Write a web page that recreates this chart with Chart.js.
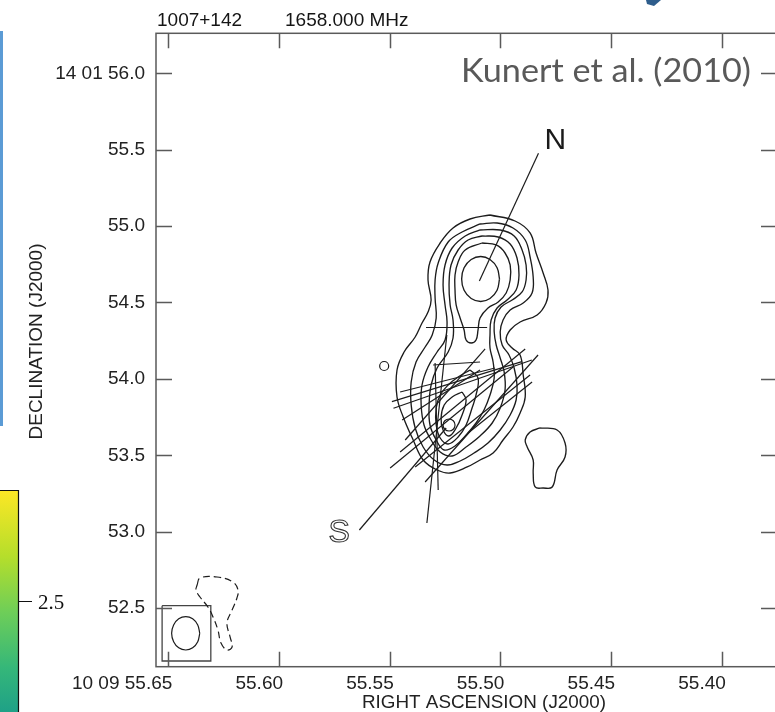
<!DOCTYPE html>
<html>
<head>
<meta charset="utf-8">
<script src="https://cdn.jsdelivr.net/npm/chart.js@4/dist/chart.umd.min.js"></script>
<style>
html,body{margin:0;padding:0;background:#fff;overflow:hidden;width:775px;height:712px;}
#wrap{position:absolute;left:0;top:0;width:790px;height:712px;}
</style>
</head>
<body>
<div id="wrap"><canvas id="c" width="790" height="712"></canvas></div>
<script>
// ---- axis ticks ----
const xTickValues = [55.65, 55.60, 55.55, 55.50, 55.45, 55.40];
const xTickLabels = ['10 09 55.65', '55.60', '55.55', '55.50', '55.45', '55.40'];
const yTickValues = [56.0, 55.5, 55.0, 54.5, 54.0, 53.5, 53.0, 52.5];
const yTickLabels = ['14 01 56.0', '55.5', '55.0', '54.5', '54.0', '53.5', '53.0', '52.5'];
const raRange = [55.37507, 55.65556];
const decRange = [52.11649, 56.26178];

// ---- contours [RA seconds, Dec arcsec] ----
const contourLevel1 = [[55.5047,55.0727],[55.4934,55.0334],[55.4866,54.9549],[55.4839,54.8240],[55.4807,54.6931],[55.4785,54.5818],[55.4794,54.4968],[55.4834,54.4182],[55.4911,54.3724],[55.4956,54.3201],[55.4974,54.2546],[55.4947,54.2023],[55.4911,54.1565],[55.4897,54.0256],[55.4888,53.8816],[55.4911,53.7769],[55.4943,53.6853],[55.4988,53.6002],[55.5033,53.5151],[55.5092,53.4693],[55.5150,53.4235],[55.5227,53.3842],[55.5286,53.4038],[55.5349,53.4693],[55.5394,53.6002],[55.5439,53.7507],[55.5467,53.8816],[55.5467,54.0583],[55.5435,54.1761],[55.5385,54.2743],[55.5354,54.3659],[55.5327,54.4379],[55.5313,54.5164],[55.5327,54.6473],[55.5318,54.7651],[55.5272,54.8894],[55.5214,54.9876],[55.5137,55.0465],[55.5047,55.0727]];
const contourLevel2 = [[55.5092,55.0138],[55.5015,55.0203],[55.4943,54.9876],[55.4888,54.9091],[55.4866,54.7978],[55.4852,54.6669],[55.4857,54.5622],[55.4897,54.4968],[55.4956,54.4510],[55.4988,54.3855],[55.5001,54.3070],[55.4992,54.2219],[55.4961,54.1565],[55.4938,54.0714],[55.4925,53.9601],[55.4929,53.8620],[55.4956,53.7638],[55.5001,53.6656],[55.5056,53.5805],[55.5119,53.5151],[55.5182,53.4627],[55.5241,53.4366],[55.5299,53.4693],[55.5349,53.5544],[55.5385,53.6787],[55.5403,53.8292],[55.5403,53.9798],[55.5381,54.1106],[55.5340,54.2088],[55.5308,54.2873],[55.5290,54.3986],[55.5295,54.5295],[55.5295,54.6473],[55.5281,54.7586],[55.5236,54.8960],[55.5173,54.9614],[55.5092,55.0138]];
const contourLevel3 = [[55.5092,54.9745],[55.5001,54.9745],[55.4938,54.9353],[55.4902,54.8436],[55.4884,54.7455],[55.4884,54.6473],[55.4902,54.5688],[55.4947,54.5164],[55.4997,54.4706],[55.5024,54.3986],[55.5028,54.3070],[55.5019,54.2219],[55.5001,54.1368],[55.4983,54.0452],[55.4979,53.9274],[55.5001,53.8096],[55.5037,53.7114],[55.5092,53.6264],[55.5155,53.5544],[55.5218,53.4955],[55.5272,53.5216],[55.5313,53.6002],[55.5345,53.6983],[55.5358,53.8292],[55.5354,53.9601],[55.5327,54.0779],[55.5286,54.1761],[55.5250,54.2546],[55.5241,54.3724],[55.5250,54.4837],[55.5259,54.6146],[55.5250,54.7455],[55.5218,54.8567],[55.5159,54.9353],[55.5092,54.9745]];
const contourLevel4 = [[55.5083,54.9353],[55.5010,54.9287],[55.4956,54.8829],[55.4925,54.7913],[55.4916,54.6800],[55.4929,54.5818],[55.4970,54.5164],[55.5015,54.4640],[55.5042,54.3855],[55.5047,54.2873],[55.5047,54.2023],[55.5033,54.1106],[55.5028,54.0059],[55.5047,53.8947],[55.5074,53.7965],[55.5110,53.7114],[55.5155,53.6329],[55.5205,53.5609],[55.5254,53.5347],[55.5290,53.6002],[55.5318,53.6983],[55.5322,53.8292],[55.5313,53.9601],[55.5286,54.0714],[55.5236,54.1761],[55.5214,54.2677],[55.5214,54.3855],[55.5227,54.4837],[55.5232,54.6146],[55.5223,54.7455],[55.5191,54.8436],[55.5146,54.9091],[55.5083,54.9353]];
const contour5North = [[55.5083,54.8894],[55.5019,54.8764],[55.4979,54.8240],[55.4956,54.7455],[55.4956,54.6473],[55.4974,54.5622],[55.5010,54.5033],[55.5056,54.4640],[55.5092,54.3986],[55.5101,54.3201],[55.5110,54.2546],[55.5132,54.2350],[55.5155,54.2546],[55.5164,54.3201],[55.5182,54.3986],[55.5200,54.4837],[55.5205,54.5818],[55.5205,54.6800],[55.5191,54.7651],[55.5159,54.8436],[55.5083,54.8894]];
const contour5South = [[55.5137,54.0583],[55.5101,54.0059],[55.5110,53.8947],[55.5128,53.8096],[55.5155,53.6983],[55.5191,53.6198],[55.5236,53.5740],[55.5272,53.6133],[55.5290,53.6983],[55.5290,53.8096],[55.5272,53.8947],[55.5236,53.9601],[55.5191,54.0125],[55.5137,54.0583]];
const contour6North = [[55.5004,54.6538],[55.5015,54.7275],[55.5047,54.7815],[55.5089,54.8011],[55.5132,54.7815],[55.5164,54.7275],[55.5175,54.6538],[55.5164,54.5802],[55.5132,54.5262],[55.5089,54.5066],[55.5047,54.5262],[55.5015,54.5802],[55.5004,54.6538]];
const contour6South = [[55.5173,53.9143],[55.5155,53.8620],[55.5173,53.7638],[55.5200,53.6787],[55.5232,53.6264],[55.5259,53.6656],[55.5268,53.7442],[55.5254,53.8292],[55.5218,53.8816],[55.5173,53.9143]];
const eastBlob = [[55.4821,53.6787],[55.4744,53.6656],[55.4708,53.5805],[55.4708,53.4889],[55.4744,53.4038],[55.4766,53.2926],[55.4807,53.2860],[55.4843,53.2926],[55.4852,53.3842],[55.4852,53.4693],[55.4879,53.5544],[55.4888,53.6002],[55.4866,53.6525],[55.4821,53.6787]];
const negativeContour = [[55.6370,52.6512],[55.6357,52.6970],[55.6280,52.7035],[55.6208,52.6708],[55.6185,52.6185],[55.6190,52.5661],[55.6212,52.4876],[55.6235,52.4025],[55.6221,52.3109],[55.6212,52.2454],[55.6235,52.2258],[55.6262,52.2716],[55.6276,52.3567],[55.6298,52.4418],[55.6321,52.5072],[55.6357,52.5726],[55.6375,52.6185],[55.6370,52.6512]];
const compactKnots = [[55.5232,53.6983],[55.5525,54.0845]];
const beamBox = [[55.6528,52.5157],[55.6308,52.5157],[55.6308,52.1538],[55.6528,52.1538],[55.6528,52.5157]];
const beamEllipse = [[55.6358,52.3351],[55.6367,52.3897],[55.6390,52.4297],[55.6421,52.4444],[55.6453,52.4297],[55.6476,52.3897],[55.6485,52.3351],[55.6476,52.2804],[55.6453,52.2404],[55.6421,52.2258],[55.6390,52.2404],[55.6367,52.2804],[55.6358,52.3351]];

// ---- straight segments ----
const jetAxisN = [[55.4828,55.4765],[55.5095,54.6408]];
const jetAxisS = [[55.5637,53.0112],[55.5245,53.6787]];
const vectorSegments = [
  [[55.5490,53.8508],[55.4903,54.1126]],
  [[55.5483,53.8076],[55.4858,54.1237]],
  [[55.5453,53.9143],[55.5024,54.0714]],
  [[55.5304,54.0910],[55.5092,54.1106]],
  [[55.5242,54.2873],[55.5332,53.0570]],
  [[55.5295,54.1041],[55.5281,53.2729]],
  [[55.5430,53.6002],[55.5069,54.1961]],
  [[55.5453,53.5216],[55.4888,54.1961]],
  [[55.5498,53.4169],[55.4943,54.0779]],
  [[55.5146,53.6460],[55.4857,53.9798]],
  [[55.5340,53.3253],[55.4830,54.1565]],
  [[55.5385,53.4235],[55.4866,54.0256]],
  [[55.5336,54.3364],[55.5060,54.3364]],
  [[55.5444,53.7311],[55.5092,54.0583]]
];

const toXY = arr => arr.map(p => ({x: p[0], y: p[1]}));
const INK = '#1c1c1c';
const datasets = [];
function addCurve(arr, opts) {
  datasets.push(Object.assign({data: toXY(arr), showLine: true, pointRadius: 0, borderColor: INK,
    borderWidth: 1.35, tension: 0.4, fill: false}, opts || {}));
}
[contourLevel1, contourLevel2, contourLevel3, contourLevel4, contour5North, contour5South,
 contour6North, contour6South, eastBlob].forEach(c => addCurve(c));
addCurve(negativeContour, {borderDash: [7, 4], borderWidth: 1.2});
addCurve(beamBox, {tension: 0, borderColor: '#444', borderWidth: 1.3});
addCurve(beamEllipse, {borderWidth: 1.2});
addCurve(jetAxisN, {tension: 0, borderWidth: 1.2});
addCurve(jetAxisS, {tension: 0, borderWidth: 1.2});
vectorSegments.forEach(s => addCurve(s, {tension: 0, borderWidth: 1.2}));
datasets.push({data: toXY(compactKnots), showLine: false, pointRadius: [6, 4.5], pointStyle: 'circle',
  pointBorderColor: INK, pointBackgroundColor: 'rgba(0,0,0,0)', pointBorderWidth: 1.2});

const AX = '#5a5a5a';
const frameTicks = {
  id: 'frameTicks',
  afterDatasetsDraw(chart) {
    const {ctx, chartArea: {left, right, top, bottom}, scales: {x, y}} = chart;
    ctx.save();
    ctx.strokeStyle = AX; ctx.lineWidth = 1.5;
    ctx.strokeRect(left, top, right - left, bottom - top);
    ctx.beginPath();
    xTickValues.forEach(v => {
      const px = Math.round(x.getPixelForValue(v)) + 0.5;
      ctx.moveTo(px, bottom); ctx.lineTo(px, bottom - 15);
      ctx.moveTo(px, top); ctx.lineTo(px, top + 15);
    });
    yTickValues.forEach(v => {
      const py = Math.round(y.getPixelForValue(v)) + 0.5;
      ctx.moveTo(left, py); ctx.lineTo(left + 16, py);
      ctx.moveTo(right, py); ctx.lineTo(right - 16, py);
    });
    ctx.stroke();
    ctx.restore();
  }
};

function fitText(ctx, text, x, y, width) {
  const w = ctx.measureText(text).width;
  ctx.save();
  ctx.translate(x, y);
  ctx.scale(width / w, 1);
  ctx.fillText(text, 0, 0);
  ctx.restore();
}

const decor = {
  id: 'decor',
  afterDraw(chart) {
    const ctx = chart.ctx;
    ctx.save();
    // header
    ctx.fillStyle = '#151515';
    ctx.font = '19px "Liberation Sans", Arial, sans-serif';
    ctx.textBaseline = 'alphabetic';
    ctx.textAlign = 'left';
    ctx.fillText('1007+142', 157, 26);
    ctx.fillText('1658.000 MHz', 285, 26);
    // axis titles
    ctx.fillStyle = '#222';
    ctx.font = '18.5px "Liberation Sans", Arial, sans-serif';
    fitText(ctx, 'RIGHT ASCENSION (J2000)', 362, 708, 244);
    ctx.font = '19px "Liberation Sans", Arial, sans-serif';
    ctx.textAlign = 'center';
    ctx.save();
    ctx.translate(42, 341.5);
    ctx.rotate(-Math.PI / 2);
    ctx.fillText('DECLINATION (J2000)', 0, 0);
    ctx.restore();
    // citation
    ctx.fillStyle = '#595959';
    ctx.font = '32px Lato, "Open Sans", sans-serif';
    ctx.textAlign = 'left';
    fitText(ctx, 'Kunert et al. (2010)', 461, 82, 290);
    // component labels
    ctx.fillStyle = '#1a1a1a';
    ctx.font = '30px "Liberation Sans", Arial, sans-serif';
    ctx.fillText('N', 544.5, 148.5);
    ctx.font = '32px "Liberation Sans", Arial, sans-serif';
    ctx.strokeStyle = '#333'; ctx.lineWidth = 1.1;
    ctx.strokeText('S', 328.5, 542);
    // left decorations: blue bar and colour bar
    ctx.fillStyle = '#5b9bd5';
    ctx.fillRect(0, 31, 3, 395);
    const g = ctx.createLinearGradient(0, 490, 0, 712);
    g.addColorStop(0, '#fde725');
    g.addColorStop(0.3, '#b5de2b');
    g.addColorStop(0.55, '#6ece58');
    g.addColorStop(0.8, '#35b779');
    g.addColorStop(1, '#1fa187');
    ctx.fillStyle = g;
    ctx.fillRect(0, 490, 18, 222);
    ctx.strokeStyle = '#111'; ctx.lineWidth = 1.2;
    ctx.beginPath();
    ctx.moveTo(0, 490.5); ctx.lineTo(18.5, 490.5); ctx.lineTo(18.5, 712);
    ctx.moveTo(18.5, 601.5); ctx.lineTo(32, 601.5);
    ctx.stroke();
    ctx.fillStyle = '#111';
    ctx.font = '21px "Liberation Serif", "DejaVu Serif", serif';
    ctx.fillText('2.5', 38, 609);
    // top-right fragment
    ctx.fillStyle = '#2e5d8c';
    ctx.beginPath();
    ctx.moveTo(646, 0); ctx.lineTo(661, 0); ctx.lineTo(654, 6); ctx.lineTo(647, 4); ctx.closePath();
    ctx.fill();
    ctx.restore();
  }
};

new Chart(document.getElementById('c'), {
  type: 'scatter',
  data: {datasets},
  options: {
    responsive: false,
    devicePixelRatio: 1,
    animation: false,
    events: [],
    layout: {padding: {left: 0, top: 33.3, right: 13, bottom: 0}},
    plugins: {legend: {display: false}, tooltip: {enabled: false}, title: {display: false}},
    scales: {
      x: {
        type: 'linear', reverse: true, min: raRange[0], max: raRange[1],
        grid: {display: false, drawTicks: false}, border: {display: false},
        afterBuildTicks: s => { s.ticks = xTickValues.map(v => ({value: v})); },
        afterFit: s => { s.height = 45.3; },
        ticks: {
          autoSkip: false, maxRotation: 0, align: 'end', labelOffset: 4, padding: 6,
          color: '#222', font: {family: '"Liberation Sans", Arial, sans-serif', size: 19},
          callback: v => { const i = xTickValues.findIndex(t => Math.abs(t - v) < 1e-6); return i >= 0 ? xTickLabels[i] : ''; }
        }
      },
      y: {
        type: 'linear', min: decRange[0], max: decRange[1],
        grid: {display: false, drawTicks: false}, border: {display: false},
        afterBuildTicks: s => { s.ticks = yTickValues.map(v => ({value: v})); },
        afterFit: s => { s.width = 156; },
        ticks: {
          autoSkip: false, padding: 11,
          color: '#222', font: {family: '"Liberation Sans", Arial, sans-serif', size: 19},
          callback: v => { const i = yTickValues.findIndex(t => Math.abs(t - v) < 1e-6); return i >= 0 ? yTickLabels[i] : ''; }
        }
      }
    }
  },
  plugins: [frameTicks, decor]
});
</script>
</body>
</html>
